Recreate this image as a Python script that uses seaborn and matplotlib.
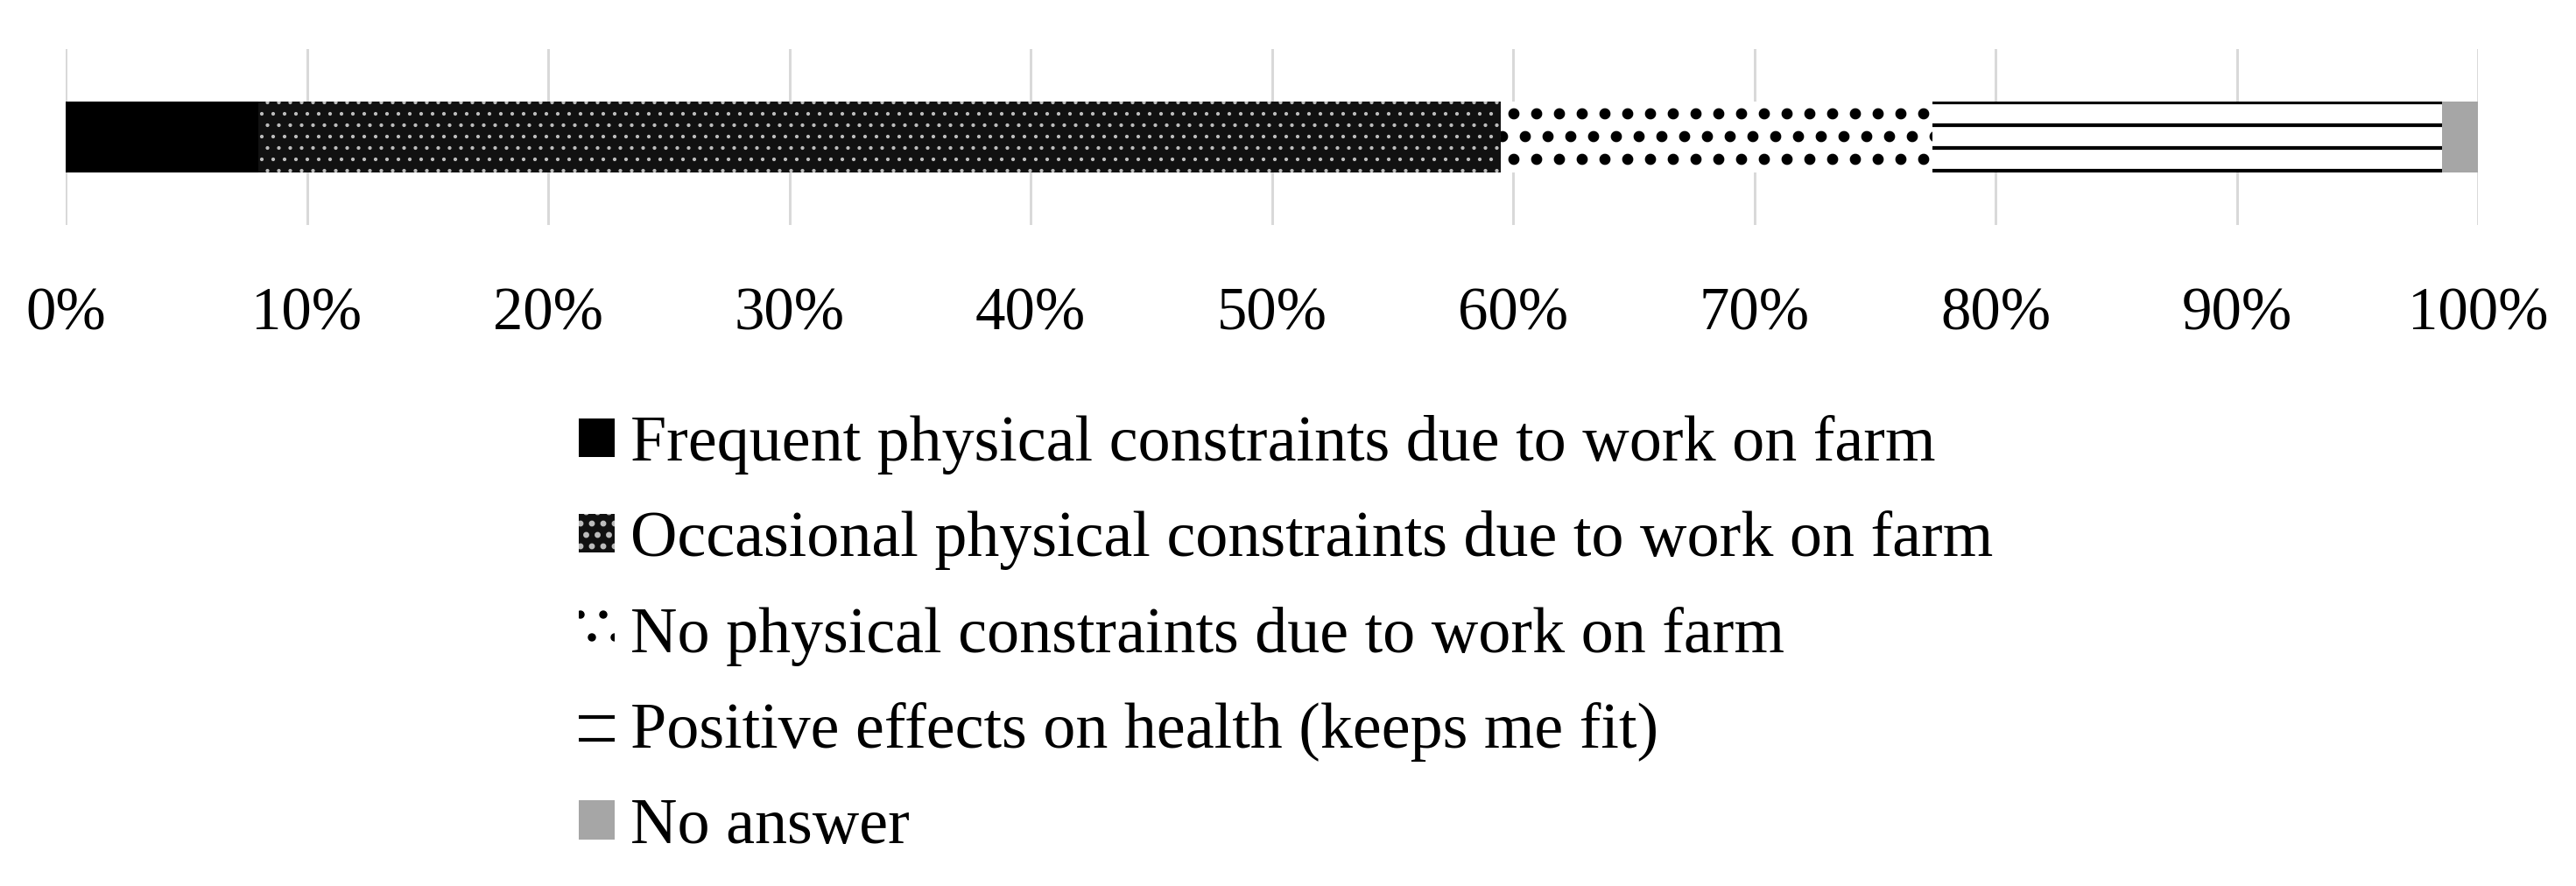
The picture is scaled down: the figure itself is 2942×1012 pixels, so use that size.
import matplotlib
matplotlib.use("Agg")
import matplotlib.pyplot as plt
from matplotlib.patches import Patch
import seaborn as sns

# answer categories and their shares (percent of respondents)
categories = [
    "Frequent physical constraints due to work on farm",
    "Occasional physical constraints due to work on farm",
    "No physical constraints due to work on farm",
    "Positive effects on health (keeps me fit)",
    "No answer",
]
shares = [8.0, 51.5, 17.9, 21.1, 1.5]
tick_values = [0, 10, 20, 30, 40, 50, 60, 70, 80, 90, 100]
tick_labels = [f"{v}%" for v in tick_values]

# dpi picked so the '-' hatch lines fall on the same rows as the original
DPI = 156
W, H = 2942, 1012


def pt(px):
    return px * 72 / DPI


per_patch_hatch_lw = hasattr(Patch, "set_hatch_linewidth")

# fill / hatch per segment (black-and-white print style)
faces = ["black", "#111111", "white", "white", "#a6a6a6"]
hatch_colors = ["black", "#bdbdbd", "black", "black", "#a6a6a6"]
hatches = [None, ".." if per_patch_hatch_lw else ".", ".", "-", None]
hatch_lw_px = [1, 1.6 if per_patch_hatch_lw else 4.4, 7.5, 4.2, 1]

sns.set_style("white")
plt.rcParams["font.family"] = ["Liberation Serif", "DejaVu Serif"]
plt.rcParams["text.color"] = "black"
plt.rcParams["xtick.color"] = "black"

fig = plt.figure(figsize=(W / DPI, H / DPI), dpi=DPI)
ax = fig.add_axes([75 / W, (H - 257) / H, 2755 / W, 201 / H])

# stacked bar: draw cumulative totals from the largest down, each covering the last
cum = []
total = 0
for s in shares:
    total += s
    cum.append(total)

for i in reversed(range(len(categories))):
    with plt.rc_context({"hatch.linewidth": pt(hatch_lw_px[i])}):
        sns.barplot(x=[cum[i]], y=[""], orient="h", color=faces[i], saturation=1,
                    edgecolor=hatch_colors[i], linewidth=0, hatch=hatches[i],
                    width=0.4, label=categories[i], ax=ax)
        if per_patch_hatch_lw:
            for p in ax.patches[-1:]:
                p.set_hatch_linewidth(pt(hatch_lw_px[i]))

plt.rcParams["hatch.linewidth"] = pt(4.2)

ax.set_xlim(0, 100)
ax.set_ylim(0.5, -0.5)
ax.set_xticks(tick_values)
ax.set_xticklabels(tick_labels)
ax.set_yticks([])
ax.set_xlabel("")
ax.set_ylabel("")
ax.tick_params(axis="x", length=0, pad=pt(71), labelsize=pt(68.75))
ax.grid(axis="x", color="#d9d9d9", linewidth=pt(3))
ax.set_axisbelow(True)
for sp in ax.spines.values():
    sp.set_visible(False)

handles, labels = ax.get_legend_handles_labels()
order = [labels.index(c) for c in categories]
ax.legend([handles[k] for k in order], [labels[k] for k in order],
          loc="upper left", bbox_to_anchor=(661 / W, 1 - 474 / H),
          bbox_transform=fig.transFigure, frameon=False, fontsize=pt(74),
          borderpad=0, borderaxespad=0, handlelength=0.55, handleheight=0.55,
          handletextpad=0.25, labelspacing=0.558)

fig.savefig("out.png", dpi=DPI)
